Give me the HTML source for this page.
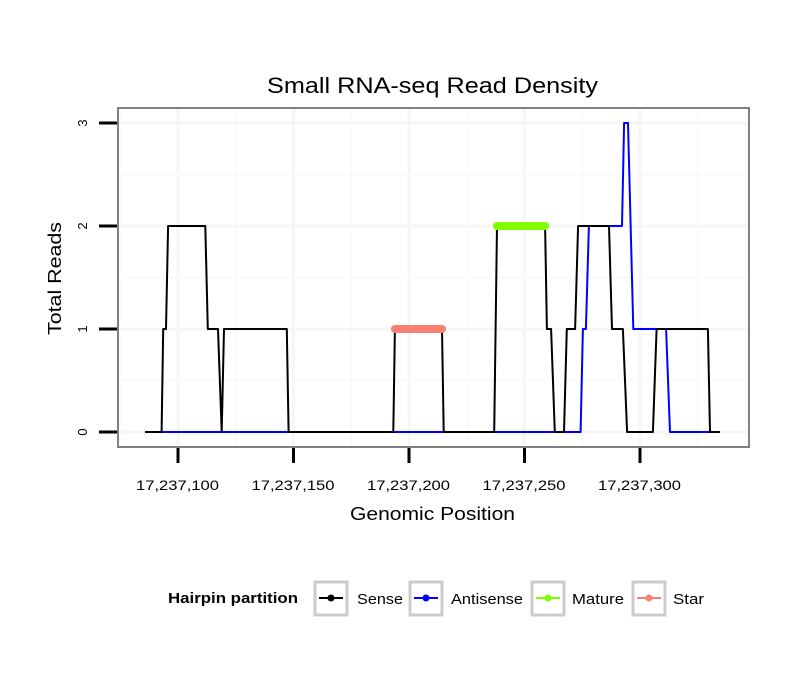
<!DOCTYPE html>
<html><head><meta charset="utf-8"><style>
body{margin:0;background:#fff;}
svg{display:block;font-family:"Liberation Sans",sans-serif;}
</style></head><body>
<svg id="chart" width="810" height="690" viewBox="0 0 810 690" xmlns="http://www.w3.org/2000/svg">
<rect width="810" height="690" fill="#fff"/>
<text x="267" y="93" font-size="22" textLength="331" lengthAdjust="spacingAndGlyphs">Small RNA-seq Read Density</text>
<g id="grid"></g>
<g id="series"></g>
<rect x="118" y="108" width="631" height="339" fill="none" stroke="#808080" stroke-width="2"/>
<g id="axes"></g>
<text x="350" y="520" font-size="18.5" textLength="165" lengthAdjust="spacingAndGlyphs">Genomic Position</text>
<text transform="translate(61,335) rotate(-90)" font-size="18.5" textLength="113" lengthAdjust="spacingAndGlyphs">Total Reads</text>
<g font-size="15">
<text x="168" y="603" font-weight="bold" font-size="14.5" textLength="130" lengthAdjust="spacingAndGlyphs">Hairpin partition</text>
<g><rect x="315" y="582" width="32" height="33" fill="none" stroke="#cccccc" stroke-width="3"/><line x1="319" y1="598" x2="343" y2="598" stroke="#000" stroke-width="2"/><circle cx="331" cy="598" r="3.5" fill="#000"/><text x="357" y="604" textLength="46" lengthAdjust="spacingAndGlyphs">Sense</text></g>
<g><rect x="410" y="582" width="32" height="33" fill="none" stroke="#cccccc" stroke-width="3"/><line x1="414" y1="598" x2="438" y2="598" stroke="#0000ff" stroke-width="2"/><circle cx="426" cy="598" r="3.5" fill="#0000ff"/><text x="451" y="604" textLength="72" lengthAdjust="spacingAndGlyphs">Antisense</text></g>
<g><rect x="532" y="582" width="32" height="33" fill="none" stroke="#cccccc" stroke-width="3"/><line x1="536" y1="598" x2="560" y2="598" stroke="#7fff00" stroke-width="2"/><circle cx="548" cy="598" r="3.5" fill="#7fff00"/><text x="572" y="604" textLength="52" lengthAdjust="spacingAndGlyphs">Mature</text></g>
<g><rect x="633" y="582" width="32" height="33" fill="none" stroke="#cccccc" stroke-width="3"/><line x1="637" y1="598" x2="661" y2="598" stroke="#fa8072" stroke-width="2"/><circle cx="649" cy="598" r="3.5" fill="#fa8072"/><text x="673" y="604" textLength="31" lengthAdjust="spacingAndGlyphs">Star</text></g>
</g>
</svg>
<script>
// positions are offsets from 17,237,000
const senseX = [85.7,92.9,93.6,94.8,95.7,111.8,112.9,117.3,118.9,119.9,147.1,147.9,193.2,193.9,214.3,215.0,236.9,238.1,258.9,259.7,261.5,263.1,267.1,268.3,271.9,273.2,286.6,287.9,292.6,294.4,305.6,307.2,329.4,330.3,334.6];
const senseY = [0,0,1,1,2,2,1,1,0,1,1,0,0,1,1,0,0,2,2,1,1,0,0,1,1,2,2,1,1,0,0,1,1,0,0];
const antiX = [93.1,274.3,275.3,276.6,277.9,292.2,293.1,294.8,297.1,311.3,313.0,330.3];
const antiY = [0,0,1,1,2,2,3,3,1,1,0,0];
const matureX = [238.1,258.9];
const matureY = [2,2];
const starX = [193.9,214.3];
const starY = [1,1];
const xTicks = [100,150,200,250,300];
const xTickLabels = ["17,237,100","17,237,150","17,237,200","17,237,250","17,237,300"];
const yTicks = [0,1,2,3];
const yTickLabels = ["0","1","2","3"];

const NS="http://www.w3.org/2000/svg";
const sx = v => 178 + (v-100)*2.31;
const sy = v => 432 - v*103;
function mk(tag, attrs, parent){const e=document.createElementNS(NS,tag);for(const k in attrs)e.setAttribute(k,attrs[k]);parent.appendChild(e);return e;}
const grid=document.getElementById('grid'), series=document.getElementById('series'), axes=document.getElementById('axes');
[75,125,175,225,275,325].forEach(v=>{const l=mk('line',{x1:sx(v),x2:sx(v),y1:109,y2:446,stroke:'#fafafa','stroke-width':2},grid);

});
xTicks.forEach(v=>{const l=mk('line',{x1:sx(v),x2:sx(v),y1:109,y2:446,stroke:'#f6f6f6','stroke-width':3},grid);

});
[0.5,1.5,2.5].forEach(v=>{const l=mk('line',{x1:119,x2:748,y1:sy(v),y2:sy(v),stroke:'#fafafa','stroke-width':2},grid);

});
yTicks.forEach(v=>{const l=mk('line',{x1:119,x2:748,y1:sy(v),y2:sy(v),stroke:'#f6f6f6','stroke-width':3},grid);

});
function path(xs,ys){return xs.map((x,i)=>(i?'L':'M')+sx(x).toFixed(1)+','+sy(ys[i]).toFixed(1)).join('');}
const pa=mk('path',{d:path(antiX,antiY),fill:'none',stroke:'#0000ff','stroke-width':2,'stroke-linejoin':'round'},series);


const ps=mk('path',{d:path(senseX,senseY),fill:'none',stroke:'#000','stroke-width':2,'stroke-linejoin':'round'},series);


const pm=mk('path',{d:path(matureX,matureY),fill:'none',stroke:'#7fff00','stroke-width':8,'stroke-linecap':'round'},series);


const pst=mk('path',{d:path(starX,starY),fill:'none',stroke:'#fa8072','stroke-width':8,'stroke-linecap':'round'},series);


xTicks.forEach((v,i)=>{const t=mk('line',{x1:sx(v),x2:sx(v),y1:448,y2:463,stroke:'#000','stroke-width':3},axes);


const tx=mk('text',{x:sx(v)-42,y:490,'font-size':14,textLength:83,lengthAdjust:'spacingAndGlyphs'},axes);tx.textContent=xTickLabels[i];

});
yTicks.forEach((v,i)=>{const t=mk('line',{x1:99,x2:117,y1:sy(v),y2:sy(v),stroke:'#000','stroke-width':3},axes);


const tx=mk('text',{transform:`translate(87,${sy(v)}) rotate(-90)`,'font-size':13,'text-anchor':'middle'},axes);tx.textContent=yTickLabels[i];

});
</script>
</body></html>
